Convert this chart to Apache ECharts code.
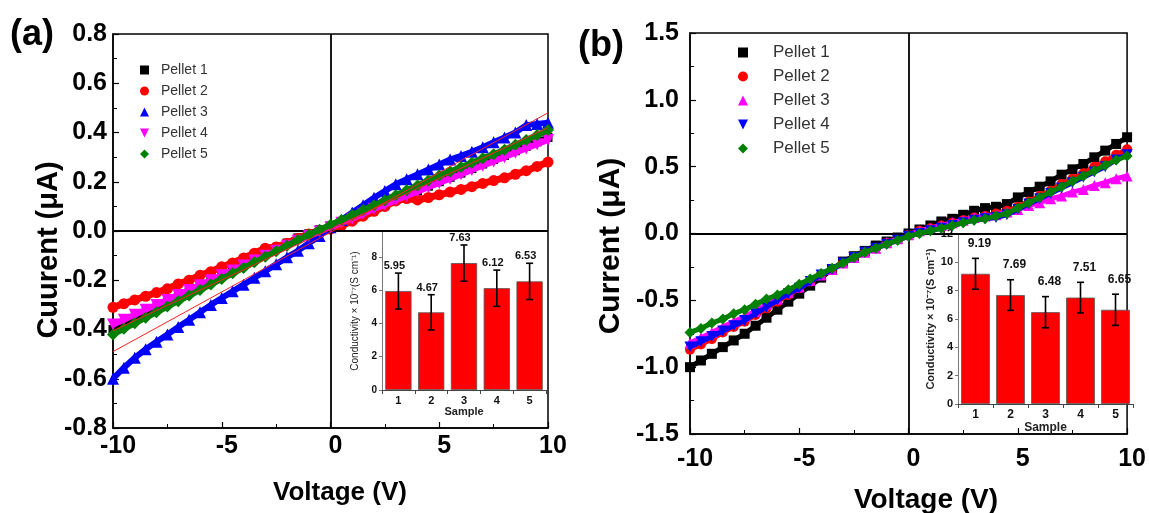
<!DOCTYPE html>
<html><head><meta charset="utf-8">
<script src="https://cdn.jsdelivr.net/npm/echarts@6/dist/echarts.min.js"></script>
<style>
html,body{margin:0;padding:0;background:#fff;}
#wrap{position:relative;width:1149px;height:513px;}
#ca{position:absolute;left:0;top:0;width:575px;height:513px;}
#cb{position:absolute;left:575px;top:0;width:574px;height:513px;}
</style></head>
<body><div id="wrap"><div id="ca"></div><div id="cb"></div></div>
<script>
// ---------- data ----------
const voltage = [-10,-9.5,-9,-8.5,-8,-7.5,-7,-6.5,-6,-5.5,-5,-4.5,-4,-3.5,-3,-2.5,-2,-1.5,-1,-0.5,0,0.5,1,1.5,2,2.5,3,3.5,4,4.5,5,5.5,6,6.5,7,7.5,8,8.5,9,9.5,10];
const pelletNames = ['Pellet 1','Pellet 2','Pellet 3','Pellet 4','Pellet 5'];

// panel (a) currents (µA)
const aPellet1 = [-0.40,-0.379,-0.357,-0.335,-0.313,-0.29,-0.269,-0.246,-0.225,-0.202,-0.181,-0.158,-0.137,-0.114,-0.093,-0.071,-0.049,-0.028,-0.011,0.005,0.02,0.038,0.056,0.073,0.092,0.11,0.128,0.146,0.163,0.182,0.2,0.218,0.235,0.254,0.272,0.29,0.307,0.326,0.344,0.362,0.38];
const aPellet2 = [-0.31,-0.295,-0.28,-0.265,-0.25,-0.235,-0.215,-0.2,-0.18,-0.165,-0.145,-0.13,-0.11,-0.09,-0.07,-0.065,-0.05,-0.03,-0.012,0.0,0.008,0.022,0.04,0.06,0.08,0.1,0.122,0.132,0.126,0.136,0.147,0.158,0.169,0.18,0.193,0.205,0.216,0.23,0.245,0.262,0.28];
const aPellet3 = [-0.6,-0.555,-0.515,-0.48,-0.45,-0.42,-0.39,-0.36,-0.33,-0.3,-0.272,-0.245,-0.218,-0.19,-0.163,-0.135,-0.107,-0.08,-0.05,-0.02,0.015,0.045,0.075,0.105,0.135,0.162,0.19,0.21,0.23,0.25,0.27,0.29,0.305,0.322,0.34,0.36,0.38,0.4,0.43,0.435,0.44];
const aPellet4 = [-0.38,-0.36,-0.34,-0.32,-0.30,-0.28,-0.26,-0.24,-0.22,-0.2,-0.18,-0.16,-0.14,-0.12,-0.1,-0.08,-0.06,-0.04,-0.02,-0.002,0.015,0.033,0.05,0.07,0.09,0.107,0.125,0.142,0.16,0.178,0.195,0.212,0.23,0.248,0.265,0.282,0.3,0.318,0.335,0.352,0.37];
const aPellet5 = [-0.42,-0.397,-0.375,-0.352,-0.33,-0.307,-0.285,-0.262,-0.24,-0.217,-0.195,-0.172,-0.15,-0.127,-0.105,-0.082,-0.06,-0.037,-0.015,0.005,0.025,0.045,0.065,0.085,0.105,0.125,0.145,0.165,0.185,0.205,0.225,0.242,0.26,0.277,0.295,0.312,0.33,0.35,0.37,0.39,0.41];
// thin linear-fit lines in panel (a): [V, I] end points
const aFit3 = [[-10,-0.49],[10,0.48]];
const aFit5 = [[-10,-0.405],[10,0.42]];

// panel (b) currents (µA)
const bPellet1 = [-1.0,-0.95,-0.9,-0.85,-0.8,-0.75,-0.69,-0.63,-0.57,-0.51,-0.45,-0.39,-0.33,-0.27,-0.21,-0.17,-0.13,-0.09,-0.06,-0.03,0.0,0.03,0.06,0.09,0.11,0.14,0.17,0.19,0.2,0.22,0.27,0.31,0.35,0.39,0.44,0.48,0.52,0.57,0.62,0.67,0.72];
const bPellet2 = [-0.87,-0.83,-0.79,-0.74,-0.7,-0.66,-0.61,-0.56,-0.51,-0.46,-0.41,-0.36,-0.31,-0.27,-0.22,-0.18,-0.14,-0.11,-0.07,-0.04,-0.01,0.02,0.04,0.06,0.08,0.1,0.12,0.13,0.15,0.17,0.2,0.24,0.28,0.32,0.37,0.41,0.45,0.5,0.54,0.59,0.63];
const bPellet3 = [-0.82,-0.78,-0.74,-0.7,-0.66,-0.62,-0.58,-0.53,-0.49,-0.44,-0.4,-0.35,-0.31,-0.27,-0.22,-0.18,-0.14,-0.11,-0.07,-0.04,-0.01,0.02,0.04,0.06,0.08,0.1,0.12,0.13,0.14,0.16,0.18,0.21,0.23,0.26,0.28,0.31,0.33,0.36,0.38,0.41,0.43];
const bPellet4 = [-0.85,-0.81,-0.77,-0.73,-0.69,-0.65,-0.6,-0.55,-0.5,-0.45,-0.41,-0.36,-0.31,-0.27,-0.22,-0.18,-0.14,-0.11,-0.08,-0.05,-0.02,0.0,0.02,0.04,0.06,0.08,0.1,0.11,0.12,0.14,0.18,0.22,0.26,0.3,0.34,0.38,0.42,0.46,0.5,0.55,0.59];
const bPellet5 = [-0.74,-0.71,-0.67,-0.64,-0.6,-0.57,-0.53,-0.49,-0.46,-0.42,-0.38,-0.34,-0.3,-0.26,-0.22,-0.18,-0.14,-0.11,-0.08,-0.05,-0.02,0.0,0.02,0.04,0.06,0.08,0.1,0.11,0.13,0.15,0.19,0.23,0.27,0.31,0.35,0.39,0.43,0.47,0.51,0.55,0.58];

// insets: conductivity ×10^-7 S/cm
const samples = ['1','2','3','4','5'];
const condA = [5.95,4.67,7.63,6.12,6.53];
const errA  = [1.08,1.06,1.09,1.09,1.09];
const condB = [9.19,7.69,6.48,7.51,6.65];
const errB  = [1.09,1.08,1.10,1.08,1.10];

// ---------- helpers ----------
const FONT = 'Arial, "Liberation Sans", sans-serif';
const invTri = 'path://M0,0L10,0L5,10Z';

function curve(name, vals, color, symbol, size, rotate, z, lw) {
  return {
    type:'line', name, xAxisIndex:0, yAxisIndex:0, z,
    data: voltage.map((v,i)=>[v, vals[i]]),
    symbol, symbolSize:size, symbolRotate: rotate||0, showSymbol:true,
    lineStyle:{color, width:lw}, itemStyle:{color}, silent:true, animation:false
  };
}
function mainX(labelMargin, pad) {
  return {type:'value', gridIndex:0, min:-10, max:10, interval:5,
    axisLine:{show:true, onZero:false, lineStyle:{color:'#000', width:1.5}},
    axisTick:{show:true, inside:true, length:6, lineStyle:{color:'#000', width:1.2}},
    minorTick:{show:true, splitNumber:2, length:4, lineStyle:{color:'#000', width:1}},
    splitLine:{show:false},
    axisLabel:{color:'#000', fontFamily:FONT, fontWeight:'bold', fontSize:25, margin:labelMargin, padding:pad}};
}
function mainY(min, max, interval, labelMargin) {
  return {type:'value', gridIndex:0, min, max, interval,
    axisLine:{show:true, onZero:false, lineStyle:{color:'#000', width:1.5}},
    axisTick:{show:true, inside:true, length:6, lineStyle:{color:'#000', width:1.2}},
    minorTick:{show:true, splitNumber:2, length:4, lineStyle:{color:'#000', width:1}},
    splitLine:{show:false},
    axisLabel:{color:'#000', fontFamily:FONT, fontWeight:'bold', fontSize:25, margin:labelMargin,
      formatter:v=>v.toFixed(1)}};
}
function insetAxes(ymax, yLabelSize, xLabelSize, nameSize, nameGapX, nameGapY, nameBold) {
  return {
    x:{type:'category', gridIndex:1, data:samples,
      axisLine:{show:true, lineStyle:{color:'#444', width:1}},
      axisTick:{show:true, length:4, lineStyle:{color:'#444'}},
      axisLabel:{color:'#111', fontFamily:FONT, fontWeight:'bold', fontSize:xLabelSize, margin:5},
      name:'Sample', nameLocation:'middle', nameGap:nameGapX,
      nameTextStyle:{color:'#222', fontFamily:FONT, fontWeight:'bold', fontSize:nameSize}},
    y:{type:'value', gridIndex:1, min:0, max:ymax, interval:2,
      axisLine:{show:true, lineStyle:{color:'#777', width:1}},
      axisTick:{show:true, length:3, lineStyle:{color:'#777'}},
      splitLine:{show:false},
      axisLabel:{color:'#111', fontFamily:FONT, fontWeight:'bold', fontSize:yLabelSize, margin:5, showMaxLabel: ymax%2===0},
      name:'Conductivity × 10⁻⁷(S cm⁻¹)', nameLocation:'middle', nameGap:nameGapY,
      nameTextStyle:{color:'#222', fontFamily:FONT, fontWeight:nameBold?'bold':'normal', fontSize:nameSize-1}}
  };
}
function errSeries(cond, err, labelDx, labelDy, fontSize) {
  return {type:'custom', xAxisIndex:1, yAxisIndex:1, z:10, silent:true, animation:false,
    data: cond.map((v,i)=>[i, v, err[i]]),
    renderItem:(params, api)=>{
      const i = api.value(0), v = api.value(1), e = api.value(2);
      const hi = api.coord([i, v+e]), lo = api.coord([i, v-e]);
      const c = 3.5, st = {stroke:'#000', lineWidth:1.6};
      return {type:'group', children:[
        {type:'line', shape:{x1:hi[0],y1:hi[1],x2:lo[0],y2:lo[1]}, style:st},
        {type:'line', shape:{x1:hi[0]-c,y1:hi[1],x2:hi[0]+c,y2:hi[1]}, style:st},
        {type:'line', shape:{x1:lo[0]-c,y1:lo[1],x2:lo[0]+c,y2:lo[1]}, style:st},
        {type:'text', x:hi[0]+labelDx, y:hi[1]-labelDy,
          style:{text:v.toFixed(2), fill:'#111', font:'bold '+fontSize+'px '+FONT, align:'center', verticalAlign:'middle'}}
      ]};
    }};
}
function legendFor(left, top, fontSize, iw, gap, padLeft, icons) {
  return {orient:'vertical', left, top, padding:0, itemWidth:iw, itemHeight:iw, itemGap:gap,
    selectedMode:false,
    textStyle:{color:'#333', fontFamily:FONT, fontSize, lineHeight:fontSize, padding:[0,0,0,padLeft]},
    data: pelletNames.map((n,i)=>({name:n, icon:icons[i]}))};
}
function zeroLines() {
  return {silent:true, symbol:'none', label:{show:false}, animation:false,
    lineStyle:{color:'#000', width:1.8, type:'solid'},
    data:[{yAxis:0},{xAxis:0}]};
}

// ---------- panel (a) ----------
const insA = insetAxes(9.5, 10, 11, 11, 16, 22, false);
const s1a = curve('Pellet 1', aPellet1, '#000000', 'rect', 9, 0, 2, 6);
s1a.markLine = zeroLines();
const optA = {
  animation:false,
  grid:[
    {left:113, top:34, width:435, height:394, show:true, borderColor:'#000', borderWidth:1.5, backgroundColor:'transparent'},
    {left:382, top:232, width:164, height:158}
  ],
  xAxis:[mainX(6,[0,0,0,10]), insA.x],
  yAxis:[mainY(-0.8,0.8,0.2,6), insA.y],
  legend: legendFor(140, 63, 14, 9, 7, 7, ['rect','circle','triangle',invTri,'diamond']),
  graphic:[
    {type:'text', left:10, top:17, style:{text:'(a)', font:'bold 36px '+FONT, fill:'#000'}},
    {type:'text', x:49, y:250, rotation:Math.PI/2, style:{text:'Cuurent (μA)', font:'bold 29px '+FONT, fill:'#000', align:'center', verticalAlign:'middle'}},
    {type:'text', x:340, y:493, style:{text:'Voltage (V)', font:'bold 26px '+FONT, fill:'#000', align:'center', verticalAlign:'middle'}}
  ],
  series:[
    s1a,
    curve('Pellet 2', aPellet2, '#ff0000', 'circle', 11, 0, 3, 7),
    curve('Pellet 3', aPellet3, '#0000ff', 'triangle', 12, 0, 4, 6),
    curve('Pellet 4', aPellet4, '#ff00ff', 'triangle', 12, 180, 5, 6),
    curve('Pellet 5', aPellet5, '#008000', 'diamond', 12, 0, 6, 6),
    {type:'line', name:'fit3', data:aFit3, symbol:'none', z:7, silent:true, lineStyle:{color:'#ff2020', width:1}},
    {type:'line', name:'fit5', data:aFit5, symbol:'none', z:7, silent:true, lineStyle:{color:'#ff2020', width:1}},
    {type:'bar', xAxisIndex:1, yAxisIndex:1, data:condA, barWidth:'80%', z:8,
      itemStyle:{color:'#ff0000', borderColor:'#555', borderWidth:0.8}, silent:true},
    errSeries(condA, errA, -4, 7, 11)
  ]
};

// ---------- panel (b) ----------
const insB = insetAxes(12, 11, 12, 12, 14, 22, true);
const s1b = curve('Pellet 1', bPellet1, '#000000', 'rect', 10, 0, 2, 5);
s1b.markLine = zeroLines();
const optB = {
  animation:false,
  grid:[
    {left:115, top:33, width:444, height:401, show:true, borderColor:'#000', borderWidth:1.5, backgroundColor:'transparent'},
    {left:383, top:234, width:175, height:170}
  ],
  xAxis:[mainX(13,[0,0,0,10]), insB.x],
  yAxis:[mainY(-1.5,1.5,0.5,11), insB.y],
  legend: legendFor(163, 44, 17, 10, 7, 20, ['rect','circle','triangle',invTri,'diamond']),
  graphic:[
    {type:'text', left:3, top:28, style:{text:'(b)', font:'bold 36px '+FONT, fill:'#000'}},
    {type:'text', x:36, y:246, rotation:Math.PI/2, style:{text:'Current (μA)', font:'bold 30px '+FONT, fill:'#000', align:'center', verticalAlign:'middle'}},
    {type:'text', x:351, y:500, style:{text:'Voltage (V)', font:'bold 28px '+FONT, fill:'#000', align:'center', verticalAlign:'middle'}}
  ],
  series:[
    s1b,
    curve('Pellet 2', bPellet2, '#ff0000', 'circle', 10, 0, 3, 5),
    curve('Pellet 3', bPellet3, '#ff00ff', 'triangle', 11, 0, 4, 5),
    curve('Pellet 4', bPellet4, '#0000ff', 'triangle', 11, 180, 5, 5),
    curve('Pellet 5', bPellet5, '#008000', 'diamond', 11, 0, 6, 5),
    {type:'bar', xAxisIndex:1, yAxisIndex:1, data:condB, barWidth:'82%', z:8,
      itemStyle:{color:'#ff0000', borderColor:'#555', borderWidth:0.8}, silent:true},
    errSeries(condB, errB, 4, 15, 12)
  ]
};

echarts.init(document.getElementById('ca'), null, {renderer:'canvas'}).setOption(optA);
echarts.init(document.getElementById('cb'), null, {renderer:'canvas'}).setOption(optB);
</script>
</body></html>
